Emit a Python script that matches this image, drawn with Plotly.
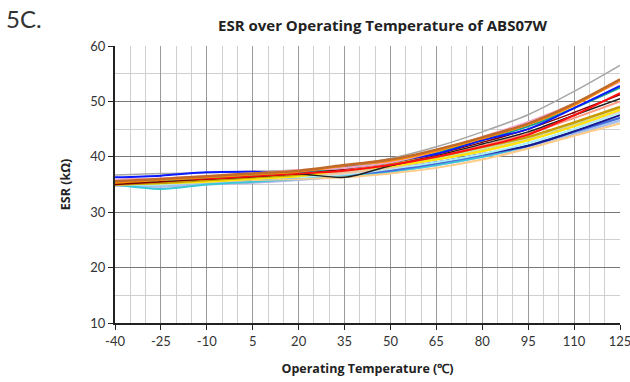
import plotly.graph_objects as go

temps = [-40, -25, -10, 5, 20, 35, 50, 65, 80, 95, 110, 125]
x_ticks = [-40, -25, -10, 5, 20, 35, 50, 65, 80, 95, 110, 125]
y_ticks = [10, 20, 30, 40, 50, 60]

gray_s = [36.7, 37.0, 37.1, 37.4, 37.6, 38.4, 39.7, 41.8, 44.5, 47.6, 51.8, 56.5]
brown_s = [35.6, 36.0, 36.5, 37.0, 37.5, 38.5, 39.5, 41.3, 43.5, 46.0, 49.6, 54.0]
orange_s = [35.3, 35.8, 36.3, 36.8, 37.3, 38.4, 39.3, 41.0, 43.3, 45.8, 49.3, 53.8]
pink_s = [35.8, 36.1, 36.5, 37.0, 37.6, 38.0, 39.0, 41.0, 43.6, 46.3, 49.6, 53.5]
blue_s = [36.3, 36.6, 37.2, 37.3, 37.3, 38.4, 39.4, 40.5, 43.0, 45.0, 48.8, 52.8]
teal_s = [35.5, 35.8, 36.3, 36.8, 37.3, 38.0, 39.0, 40.8, 43.0, 45.5, 48.8, 52.5]
red_s = [35.8, 36.0, 36.1, 36.5, 37.0, 37.5, 38.5, 40.0, 41.8, 44.0, 47.5, 51.5]
darkred_s = [35.0, 35.5, 36.0, 36.5, 37.0, 37.8, 39.0, 40.5, 42.6, 45.0, 48.0, 51.2]
black_s = [35.3, 35.6, 36.0, 36.4, 36.9, 36.3, 38.4, 40.2, 42.3, 44.5, 47.5, 50.5]
gold_s = [35.0, 35.3, 35.8, 36.3, 36.8, 38.0, 38.8, 40.0, 41.8, 43.6, 46.2, 49.0]
yellow_s = [35.0, 35.2, 35.5, 36.0, 36.5, 37.6, 38.3, 39.5, 41.0, 43.0, 45.5, 48.5]
peach_s = [35.1, 35.3, 35.6, 36.0, 36.6, 37.0, 38.0, 39.5, 41.0, 43.0, 45.5, 48.3]
lcyan_s = [35.0, 35.0, 35.5, 36.0, 36.3, 36.8, 37.8, 39.0, 40.5, 42.5, 45.0, 48.0]
navy_s = [35.5, 35.5, 35.8, 36.0, 36.5, 37.0, 37.8, 39.0, 40.5, 42.0, 44.6, 47.5]
mblue_s = [35.3, 35.3, 35.6, 36.0, 36.3, 36.8, 37.5, 38.8, 40.3, 42.0, 44.5, 47.0]
lblue_s = [34.8, 34.8, 35.2, 35.6, 36.0, 36.5, 37.3, 38.5, 40.0, 41.8, 44.2, 46.5]
cyan_s = [35.0, 34.2, 35.0, 35.5, 36.0, 36.5, 37.3, 38.5, 40.0, 42.0, 44.5, 47.0]
lorange_s = [35.0, 35.2, 35.5, 35.8, 36.0, 36.3, 37.0, 38.0, 39.5, 41.5, 43.8, 46.0]
lavender_s = [34.8, 34.6, 35.0, 35.3, 35.8, 36.5, 37.3, 38.5, 40.0, 41.8, 44.0, 46.5]
lgreen_s = [35.3, 35.5, 35.8, 36.2, 36.8, 37.5, 38.3, 39.8, 41.5, 43.5, 46.0, 49.0]
salmon_s = [35.6, 35.8, 36.2, 36.6, 37.0, 37.6, 38.5, 40.2, 42.0, 44.2, 47.0, 50.0]
tan_s = [35.2, 35.4, 35.7, 36.1, 36.6, 37.2, 38.1, 39.6, 41.2, 43.2, 45.8, 48.8]

series = [
    (gray_s, "#a6a6a6", 1.5),
    (lavender_s, "#b4b4e6", 2),
    (lblue_s, "#a8c0ec", 2.5),
    (cyan_s, "#38c8d8", 2),
    (lorange_s, "#ffcc88", 2),
    (mblue_s, "#4a68e0", 2),
    (navy_s, "#1a1a90", 2),
    (lcyan_s, "#a8eef4", 2),
    (peach_s, "#f8c8b4", 2),
    (tan_s, "#e8c89a", 2),
    (lgreen_s, "#c4e2a4", 2),
    (yellow_s, "#ffe600", 2),
    (gold_s, "#c89c00", 2.5),
    (salmon_s, "#ff9a80", 2),
    (black_s, "#202020", 1.5),
    (darkred_s, "#800000", 1.5),
    (red_s, "#ff1010", 2),
    (teal_s, "#18a090", 2),
    (blue_s, "#0a1aff", 2),
    (pink_s, "#f4a4c8", 2),
    (orange_s, "#ff8c00", 2),
    (brown_s, "#c06a2a", 2.5),
]

fig = go.Figure()
for vals, col, w in series:
    fig.add_trace(go.Scatter(x=temps, y=vals, mode="lines",
                             line=dict(color=col, width=w, shape="spline", smoothing=0.8),
                             showlegend=False, hoverinfo="skip"))

tick_font = "Lato, Roboto, sans-serif"
title_font = "Open Sans, Roboto, sans-serif"
fig.update_layout(
    width=630, height=382,
    margin=dict(l=115, r=10, t=46, b=59, autoexpand=False),
    paper_bgcolor="white", plot_bgcolor="white",
    font=dict(family=tick_font, size=12, color="#333333"),
    xaxis=dict(range=[-40, 125], tickmode="array", tickvals=x_ticks,
               ticktext=[str(v) for v in x_ticks], ticklabeloverflow="allow",
               automargin=False,
               showgrid=True, gridcolor="#9a9a9a", gridwidth=1,
               minor=dict(dtick=5, tick0=-40, showgrid=True, gridcolor="#cfcfcf", gridwidth=1),
               showline=True, linecolor="#222222", linewidth=2,
               ticks="outside", ticklen=5, tickcolor="#222222",
               zeroline=False, tickfont=dict(family=tick_font, size=13, color="#333333"),
               title=dict(text="<b>Operating Temperature (℃)</b>",
                          font=dict(family=title_font, size=12.5, color="#222222"), standoff=17)),
    yaxis=dict(range=[10, 60], tickmode="array", tickvals=y_ticks,
               ticktext=[str(v) for v in y_ticks], automargin=False,
               showgrid=True, gridcolor="#777777", gridwidth=1,
               minor=dict(dtick=5, tick0=10, showgrid=True, gridcolor="#cfcfcf", gridwidth=1),
               showline=True, linecolor="#222222", linewidth=2,
               ticks="outside", ticklen=5, tickcolor="#222222",
               zeroline=False, tickfont=dict(family=tick_font, size=13, color="#333333"),
               title=dict(text="<b>ESR (kΩ)</b>",
                          font=dict(family=title_font, size=12.5, color="#222222"), standoff=17)),
    annotations=[
        dict(text="<b>ESR over Operating Temperature of ABS07W</b>",
             xref="paper", yref="paper", x=(383 - 115) / 505, y=1 + 21 / 277,
             xanchor="center", yanchor="middle", showarrow=False,
             font=dict(family=title_font, size=15, color="#222222")),
        dict(text="5C.", xref="paper", yref="paper",
             x=-111 / 505, y=1 + 27 / 277, xanchor="left", yanchor="middle",
             showarrow=False, font=dict(family=tick_font, size=24, color="#333333")),
    ],
)

fig.write_html("out.html")
